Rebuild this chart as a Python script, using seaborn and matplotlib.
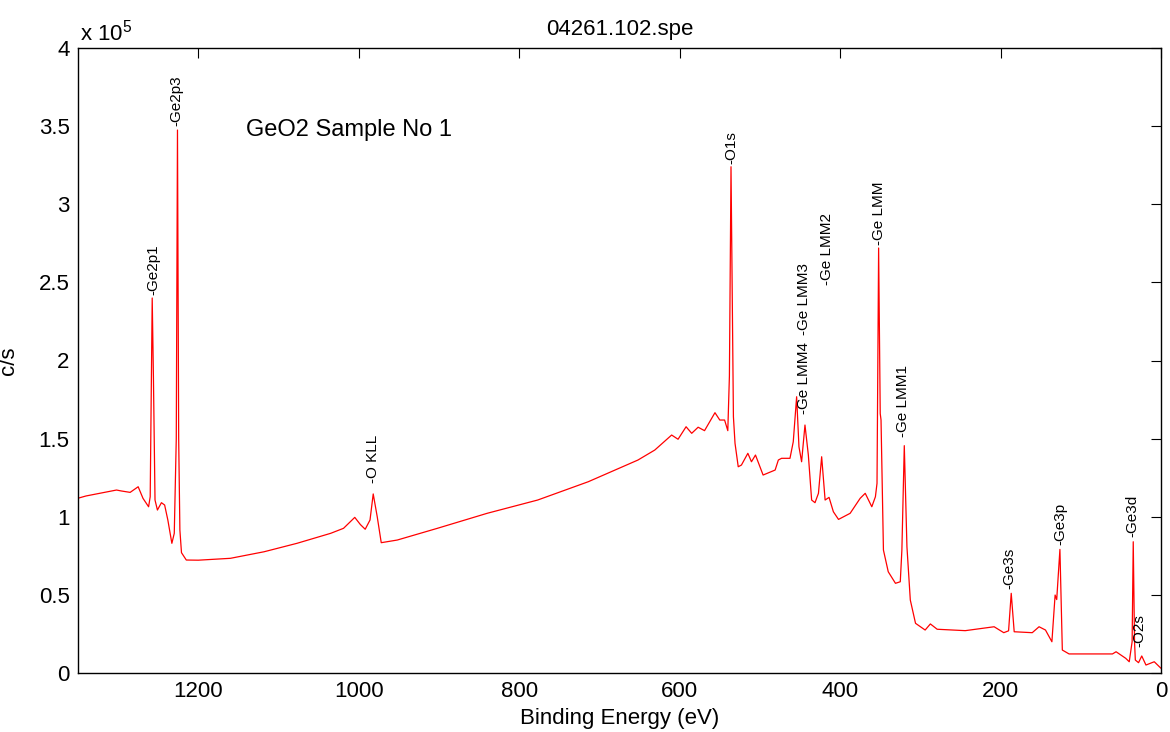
import numpy as np
import pandas as pd
import seaborn as sns
import matplotlib
matplotlib.use("Agg")
import matplotlib.pyplot as plt
from matplotlib.ticker import FuncFormatter

# spectrum (binding energy in eV, counts in c/s)
energy = [1349, 1340, 1321, 1302, 1296, 1285, 1275, 1269, 1262, 1260, 1258.5, 1257.5, 1256, 1254, 1251,
          1246, 1242, 1238, 1233, 1230, 1227.5, 1226, 1224.5, 1223, 1221, 1215, 1200, 1160, 1118,
          1077, 1035, 1019, 1005, 998, 992, 986, 982, 977, 972, 952, 902, 840, 777, 714, 652, 631,
          610, 602, 592, 585, 577, 569, 556, 550, 544, 540, 538, 536, 534, 533, 531, 527, 523, 515,
          510.5, 505.5, 496, 481, 477, 473, 462.5, 458.4, 454.2, 451.3, 448, 443.8, 439.6, 435.5,
          431.3, 427, 423, 418.7, 413.8, 408.4, 402, 387.5, 375, 368.7, 360.5, 356, 354, 353.5, 352,
          350, 349, 346, 340, 331, 325, 323, 320, 316.7, 312.5, 306, 294, 287.5, 279, 244, 208, 196,
          190, 186.7, 183, 160.5, 152, 144, 136, 132, 130, 126, 123, 114.6, 60.5, 56, 44, 39.6, 36,
          34.6, 33, 32, 28, 24, 18.75, 8.4, 0]
counts = [1.12, 1.133, 1.152, 1.171, 1.165, 1.156, 1.192, 1.118, 1.064, 1.128, 1.9, 2.40, 1.9, 1.107, 1.043,
          1.09, 1.075, 0.979, 0.83, 0.894, 1.5, 3.475, 1.5, 0.915, 0.77, 0.723, 0.722, 0.734, 0.776,
          0.83, 0.894, 0.926, 0.996, 0.95, 0.92, 0.979, 1.146, 1.0, 0.834, 0.851, 0.926, 1.022, 1.107,
          1.224, 1.363, 1.427, 1.523, 1.496, 1.576, 1.534, 1.573, 1.551, 1.666, 1.619, 1.619, 1.551,
          1.9, 3.24, 2.2, 1.64, 1.47, 1.32, 1.331, 1.406, 1.352, 1.395, 1.267, 1.299, 1.363, 1.374,
          1.374, 1.48, 1.768, 1.448, 1.352, 1.587, 1.395, 1.107, 1.09, 1.15, 1.384, 1.107, 1.124,
          1.032, 0.983, 1.022, 1.118, 1.15, 1.064, 1.128, 1.214, 1.6, 2.72, 1.66, 1.62, 0.787, 0.648,
          0.574, 0.584, 0.787, 1.455, 0.808, 0.467, 0.318, 0.275, 0.314, 0.28, 0.271, 0.296, 0.258,
          0.27, 0.51, 0.264, 0.258, 0.296, 0.275, 0.2, 0.499, 0.47, 0.791, 0.147, 0.122, 0.122,
          0.136, 0.094, 0.072, 0.2, 0.84, 0.2, 0.083, 0.066, 0.109, 0.051, 0.072, 0.03]
counts = [c * 1e5 for c in counts]

# peak labels: text, energy, height of label base (c/s)
peak_names = ["-Ge2p1", "-Ge2p3", "-O KLL", "-O1s", "-Ge LMM4", "-Ge LMM3", "-Ge LMM2",
              "-Ge LMM", "-Ge LMM1", "-Ge3s", "-Ge3p", "-Ge3d", "-O2s"]
peak_energy = [1256, 1227, 982, 536, 444.5, 444.5, 416.7, 352, 321, 189, 126, 35.5, 27]
peak_height = [2.42e5, 3.5e5, 1.216e5, 3.26e5, 1.66e5, 2.163e5, 2.483e5, 2.74e5, 1.51e5,
               0.536e5, 0.82e5, 0.868e5, 0.168e5]

x_ticks = [0, 200, 400, 600, 800, 1000, 1200]
y_ticks = [0, 0.5e5, 1e5, 1.5e5, 2e5, 2.5e5, 3e5, 3.5e5, 4e5]

sns.set_theme(style="white")
plt.rcParams["font.family"] = ["Liberation Sans", "DejaVu Sans"]
plt.rcParams["mathtext.fontset"] = "custom"
plt.rcParams["mathtext.rm"] = "Liberation Sans"
plt.rcParams["text.color"] = "black"
plt.rcParams["axes.labelcolor"] = "black"

df = pd.DataFrame({"Binding Energy (eV)": energy, "c/s": counts})

fig = plt.figure(figsize=(11.7, 7.32), dpi=100)
ax = fig.add_axes([78 / 1170, 1 - 673 / 732, (1161 - 78) / 1170, (673 - 48) / 732])
sns.lineplot(data=df, x="Binding Energy (eV)", y="c/s", sort=False, color="red", linewidth=0.9, ax=ax)

ax.set_xlim(1350, 0)
ax.set_ylim(0, 4e5)
ax.set_xticks(x_ticks)
ax.set_yticks(y_ticks)
ax.yaxis.set_major_formatter(FuncFormatter(lambda v, p: f"{v / 1e5:g}"))
ax.tick_params(direction="in", top=True, right=True, length=7, width=0.8, color="black",
               labelcolor="black", labelsize=16, pad=6)
for s in ax.spines.values():
    s.set_color("black")
    s.set_linewidth(1.0)

ax.set_xlabel("Binding Energy (eV)", fontsize=16, labelpad=4)
ax.set_ylabel("c/s", fontsize=16, labelpad=14)
ax.set_title("04261.102.spe", fontsize=16, pad=9, color="black")
fig.text(80 / 1170, 1 - 40 / 732, "x 10$^5$", fontsize=16, ha="left", va="baseline")

for name, e, h in zip(peak_names, peak_energy, peak_height):
    ax.text(e, h, name, rotation=90, ha="center", va="bottom", fontsize=11)

ax.text(1141, 3.475e5, "GeO2 Sample No 1", fontsize=17, ha="left", va="center")

fig.savefig("out.png", dpi=100)
